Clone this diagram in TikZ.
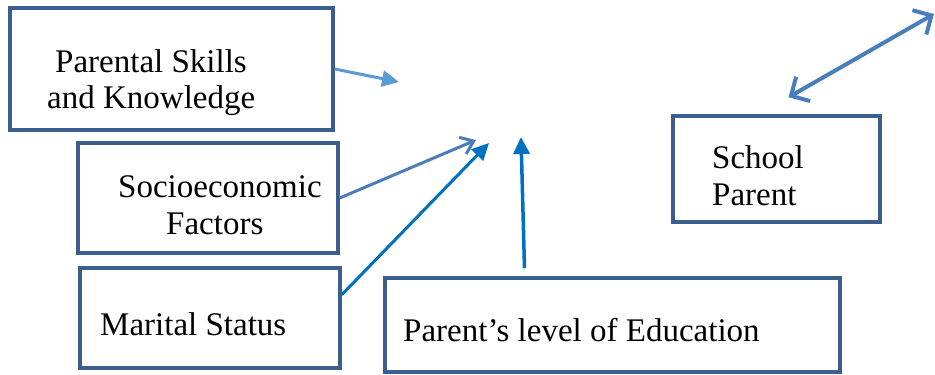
\documentclass[tikz,border=0pt]{standalone}
\usepackage{fontspec}
\setmainfont{Liberation Serif}
\usepackage{tikz}
\usetikzlibrary{arrows.meta}
\definecolor{boxblue}{HTML}{3A5F8F}
\definecolor{lightarrow}{HTML}{5B9BD5}
\definecolor{midarrow}{HTML}{4A7EBB}
\definecolor{darkarrow}{HTML}{0070C0}

\begin{document}
\begin{tikzpicture}[
  factorbox/.style={draw=boxblue,line width=3.5bp,rectangle,inner sep=0pt},
  boxtext/.style={anchor=base west,inner sep=0pt,font=\fontsize{33bp}{36bp}\selectfont},
  linkarrow/.style={line width=3bp,-{Triangle[length=17bp,width=16bp]}}
]
\useasboundingbox (0bp,0bp) rectangle (935bp,-375bp);

\node (PS) at (171.5bp,-69bp)[factorbox,minimum width=323bp,minimum height=122bp] {};
\node (SE) at (208bp,-198bp)[factorbox,minimum width=260bp,minimum height=110bp] {};
\node (MS) at (210bp,-318bp)[factorbox,minimum width=260bp,minimum height=100bp] {};
\node (PE) at (612.5bp,-325bp)[factorbox,minimum width=455bp,minimum height=94bp] {};
\node (SP) at (776.5bp,-169bp)[factorbox,minimum width=207bp,minimum height=106bp] {};

\node (PSa) at (55bp,-72bp)[boxtext] {Parental Skills};
\node (PSb) at (47bp,-108bp)[boxtext] {and Knowledge};
\node (SEa) at (118bp,-197bp)[boxtext] {Socioeconomic};
\node (SEb) at (166bp,-234bp)[boxtext] {Factors};
\node (MSa) at (100bp,-335bp)[boxtext] {Marital Status};
\node (PEa) at (403bp,-341bp)[boxtext] {Parent’s level of Education};
\node (SPa) at (712bp,-168bp)[boxtext] {School};
\node (SPb) at (712bp,-205bp)[boxtext] {Parent};

\coordinate (tipPS) at (399bp,-82bp);
\coordinate (tipSE) at (476bp,-140bp);
\coordinate (tipMS) at (489bp,-143bp);
\coordinate (tipPE) at (521bp,-137bp);
\coordinate (topright) at (934bp,-14bp);

\draw [linkarrow,draw=lightarrow,fill=lightarrow] (PS.east) to (tipPS);
\draw [line width=3bp,draw=midarrow,-{Straight Barb[length=12bp,width=18bp]}] (SE.east) to (tipSE);
\draw [linkarrow,draw=darkarrow,fill=darkarrow] (MS.10) to (tipMS);
\draw [linkarrow,line width=3.5bp,draw=darkarrow,fill=darkarrow] ([xshift=-88bp,yshift=8bp]PE.north) to (tipPE);
\draw [line width=4bp,draw=midarrow,{Straight Barb[length=14bp,width=28bp]}-{Straight Barb[length=14bp,width=28bp]}] ([xshift=12bp,yshift=17bp]SP.north) to (topright);
\end{tikzpicture}
\end{document}
